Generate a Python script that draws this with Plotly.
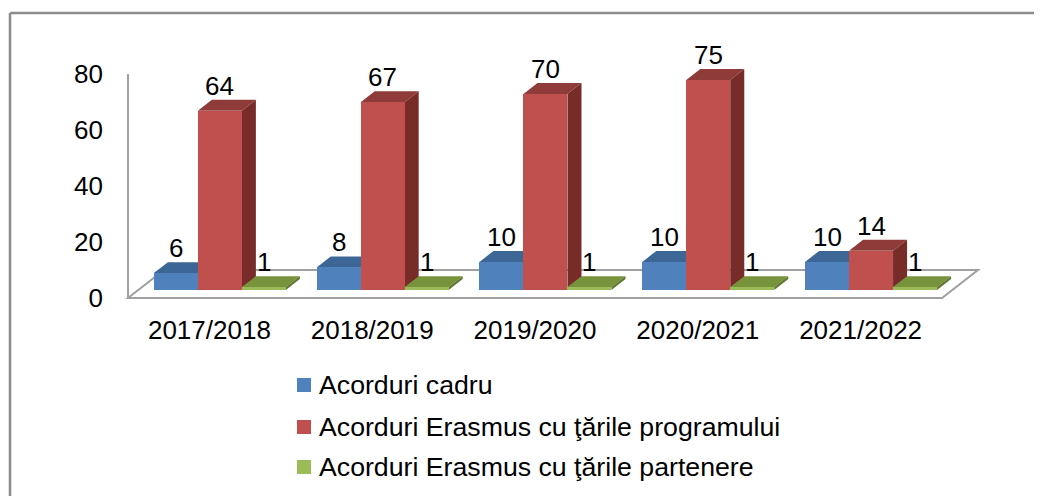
import plotly.graph_objects as go

# ---------------- data ----------------
categories = ["2017/2018", "2018/2019", "2019/2020", "2020/2021", "2021/2022"]
series_names = [
    "Acorduri cadru",
    "Acorduri Erasmus cu ţările programului",
    "Acorduri Erasmus cu ţările partenere",
]
acorduri_cadru = [6, 8, 10, 10, 10]
acorduri_program = [64, 67, 70, 75, 14]
acorduri_partenere = [1, 1, 1, 1, 1]
y_ticks = [0, 20, 40, 60, 80]

series_values = [acorduri_cadru, acorduri_program, acorduri_partenere]

# ---------------- style ----------------
front_col = ["#4F81BD", "#C0504D", "#9BBB59"]
top_col = ["#3C6696", "#8F3B39", "#77933C"]
side_col = ["#2F5179", "#772C2A", "#5F7731"]
FONT = "Liberation Sans, Arial, sans-serif"
FS = 26
FS_LEG = 26.7

OFF = 8  # page body margin (px) -> work in screen px, convert to figure px
W, H = 1042, 496
L, R, T, B = 110 - OFF, 1010 - OFF, 40 - OFF, 306 - OFF   # plot area in figure px
X0_PX, Y0_PX = 128 - OFF, 298 - OFF                      # front-left floor corner
PPC = 162.8                              # px per category
PPV = 2.8                                # px per value unit

fdx = 36 / PPC       # floor depth, x units
fdy = 28 / PPV       # floor depth, y units
f0, f1 = 0.29, 0.68  # bar depth position (fraction of floor depth)
bw = 44 / PPC        # bar width

x_range = [-0.5 - (X0_PX - L) / PPC, -0.5 + (R - X0_PX) / PPC]
y_range = [-(B - Y0_PX) / PPV, (Y0_PX - T) / PPV]

fig = go.Figure()
shapes = []
annotations = []

# floor
xa, xb = -0.5, len(categories) - 0.5
shapes.append(dict(
    type="path", xref="x", yref="y", layer="below",
    path=f"M{xa},0 L{xb},0 L{xb + fdx},{fdy} L{xa + fdx},{fdy} Z",
    line=dict(color="#A0A0A0", width=2), fillcolor="white"))
# vertical axis line
shapes.append(dict(type="line", xref="x", yref="y", layer="below",
                   x0=xa, y0=0, x1=xa, y1=max(y_ticks),
                   line=dict(color="#A0A0A0", width=2)))

base = f0 * fdy
ddx = (f1 - f0) * fdx
ddy = (f1 - f0) * fdy

for i in range(len(categories)):
    for j, vals in enumerate(series_values):
        v = vals[i]
        xc = i + (j - 1) * bw + f0 * fdx
        xl, xr = xc - bw / 2, xc + bw / 2
        top = base + v
        # top face
        shapes.append(dict(
            type="path", xref="x", yref="y", layer="below",
            path=f"M{xl},{top} L{xr},{top} L{xr + ddx},{top + ddy} L{xl + ddx},{top + ddy} Z",
            line=dict(width=0), fillcolor=top_col[j]))
        # right side face
        shapes.append(dict(
            type="path", xref="x", yref="y", layer="below",
            path=f"M{xr},{base} L{xr},{top} L{xr + ddx},{top + ddy} L{xr + ddx},{base + ddy} Z",
            line=dict(width=0), fillcolor=side_col[j]))
        annotations.append(dict(
            x=xc, y=top, xref="x", yref="y", text=str(v), showarrow=False,
            yshift=25, font=dict(family=FONT, size=FS, color="black")))

for j, vals in enumerate(series_values):
    xs = [i + (j - 1) * bw + f0 * fdx for i in range(len(categories))]
    fig.add_trace(go.Bar(
        x=xs, y=vals, base=[base] * len(vals), width=bw, name=series_names[j],
        marker=dict(color=front_col[j], line=dict(width=0)), showlegend=False,
        customdata=categories,
        hovertemplate="%{customdata}<br>%{y}<extra>" + series_names[j] + "</extra>"))


def xp(px_screen):
    return (px_screen - OFF - L) / (R - L)


def yp(py_screen):
    return (B - (py_screen - OFF)) / (B - T)


# outer chart border (top and left)
shapes.append(dict(type="line", xref="paper", yref="paper",
                   x0=xp(10), y0=yp(13), x1=xp(1080), y1=yp(13),
                   line=dict(color="#8C8C8C", width=2.5)))
shapes.append(dict(type="line", xref="paper", yref="paper",
                   x0=xp(10), y0=yp(13), x1=xp(10), y1=yp(540),
                   line=dict(color="#8C8C8C", width=2.5)))

# legend (vertical list below the axis)
leg_y = [385, 427, 467]
for j, name in enumerate(series_names):
    cy = leg_y[j]
    shapes.append(dict(type="rect", xref="paper", yref="paper",
                       x0=xp(297), x1=xp(311), y0=yp(cy - 7), y1=yp(cy + 7),
                       line=dict(width=0), fillcolor=front_col[j]))
    annotations.append(dict(x=xp(317), y=yp(cy), xref="paper", yref="paper",
                            text=name, showarrow=False, xanchor="left", yanchor="middle",
                            font=dict(family=FONT, size=FS_LEG, color="black")))

fig.update_layout(
    width=W, height=H,
    margin=dict(l=L, r=W - R, t=T, b=H - B),
    paper_bgcolor="white", plot_bgcolor="white",
    barmode="overlay", bargap=0,
    shapes=shapes, annotations=annotations,
    font=dict(family=FONT, size=FS, color="black"),
    xaxis=dict(range=x_range, tickmode="array", tickvals=list(range(len(categories))),
               ticktext=categories, showgrid=False, zeroline=False, showline=False,
               ticks="", ticklabelstandoff=6, tickfont=dict(family=FONT, size=FS)),
    yaxis=dict(range=y_range, tickmode="array", tickvals=y_ticks,
               ticktext=[str(t) for t in y_ticks], showgrid=False, zeroline=False,
               showline=False, ticks="", ticklabelstandoff=6,
               tickfont=dict(family=FONT, size=FS)),
    showlegend=False,
)

fig.write_html("out.html")
